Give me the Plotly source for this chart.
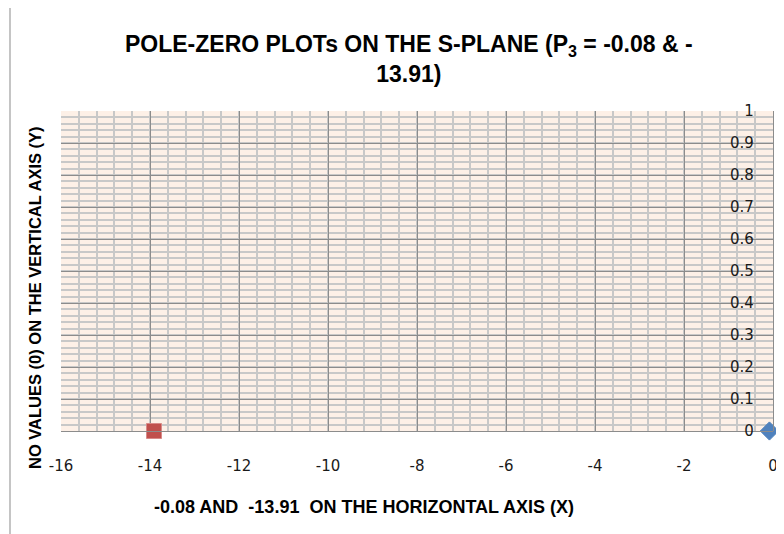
import plotly.graph_objects as go

# Data
pole1_x = [-0.08]
pole1_y = [0]
pole2_x = [-13.91]
pole2_y = [0]
x_ticks = [-16, -14, -12, -10, -8, -6, -4, -2, 0]
y_ticks = [0, 0.1, 0.2, 0.3, 0.4, 0.5, 0.6, 0.7, 0.8, 0.9, 1]
y_tick_labels = ["0", "0.1", "0.2", "0.3", "0.4", "0.5", "0.6", "0.7", "0.8", "0.9", "1"]

# page body has an 8px margin, so work in figure coords offset by 8
OFF = 8
W, H = 784 - OFF, 534 - OFF
L, R, T, B = 61 - OFF, 11, 111 - OFF, 534 - 431
pw, ph = W - L - R, H - T - B

def px(x):
    return (x - OFF - L) / pw

def py(y):
    return (H - B - (y - OFF)) / ph

fig = go.Figure()
fig.add_trace(go.Scatter(x=pole1_x, y=pole1_y, mode="markers",
                         marker=dict(symbol="diamond", size=14, color="#4F81BD",
                                     line=dict(color="#4A7EBB", width=1)),
                         cliponaxis=False, showlegend=False))
fig.add_trace(go.Scatter(x=pole2_x, y=pole2_y, mode="markers",
                         marker=dict(symbol="square", size=15, color="#C0504D",
                                     line=dict(color="#D88A88", width=1)),
                         cliponaxis=False, showlegend=False))

tickfont = dict(family="DejaVu Sans, Verdana, sans-serif", size=15, color="#1A1A1A")
titlefont = "Liberation Sans, Arial, sans-serif"

fig.update_layout(
    width=W, height=H,
    margin=dict(l=L, r=R, t=T, b=B, autoexpand=False),
    paper_bgcolor="white",
    plot_bgcolor="#FDF0E7",
    showlegend=False,
    xaxis=dict(range=[-16, 0], tickvals=x_ticks, ticktext=[str(v) for v in x_ticks],
               showgrid=True, gridcolor="#8C8C8C", gridwidth=1.3,
               minor=dict(dtick=0.4, showgrid=True, gridcolor="#C8C8C8", gridwidth=1.6),
               zeroline=False, showline=True, linecolor="#8C8C8C", linewidth=1.3,
               ticks="", tickfont=tickfont, ticklabelstandoff=21, fixedrange=True,
               automargin=False),
    yaxis=dict(range=[0, 1], tickvals=y_ticks, ticktext=y_tick_labels,
               side="left", anchor="free", position=1.0, ticklabelstandoff=16,
               showgrid=True, gridcolor="#8C8C8C", gridwidth=1.3,
               minor=dict(dtick=0.02, showgrid=True, gridcolor="#C8C8C8", gridwidth=1.6),
               zeroline=False, showline=True, linecolor="#8C8C8C", linewidth=1.3,
               ticks="", tickfont=tickfont, fixedrange=True, automargin=False),
    shapes=[
        dict(type="path", xref="paper", yref="paper",
             path=f"M {px(10)} {py(560)} L {px(10)} {py(7)} L {px(800)} {py(7)}",
             line=dict(color="#A6A6A6", width=1.3)),
    ],
    annotations=[
        dict(text="POLE-ZERO PLOTs ON THE S-PLANE (P<sub>3</sub> = -0.08 & -<br>13.91)",
             xref="paper", yref="paper", x=px(409), y=py(59), xanchor="center", yanchor="middle",
             showarrow=False, font=dict(family=titlefont, size=23, color="black", weight="bold"),
             align="center"),
        dict(text="-0.08 AND&nbsp; -13.91&nbsp; ON THE HORIZONTAL AXIS (X)",
             xref="paper", yref="paper", x=px(364), y=py(507), xanchor="center", yanchor="middle",
             showarrow=False, font=dict(family=titlefont, size=18, color="black", weight="bold")),
        dict(text="NO VALUES (0) ON THE VERTICAL AXIS (Y)", textangle=-90,
             xref="paper", yref="paper", x=px(35), y=py(298), xanchor="center", yanchor="middle",
             showarrow=False, font=dict(family=titlefont, size=16.5, color="black", weight="bold")),
    ],
)

fig.write_html("out.html")
